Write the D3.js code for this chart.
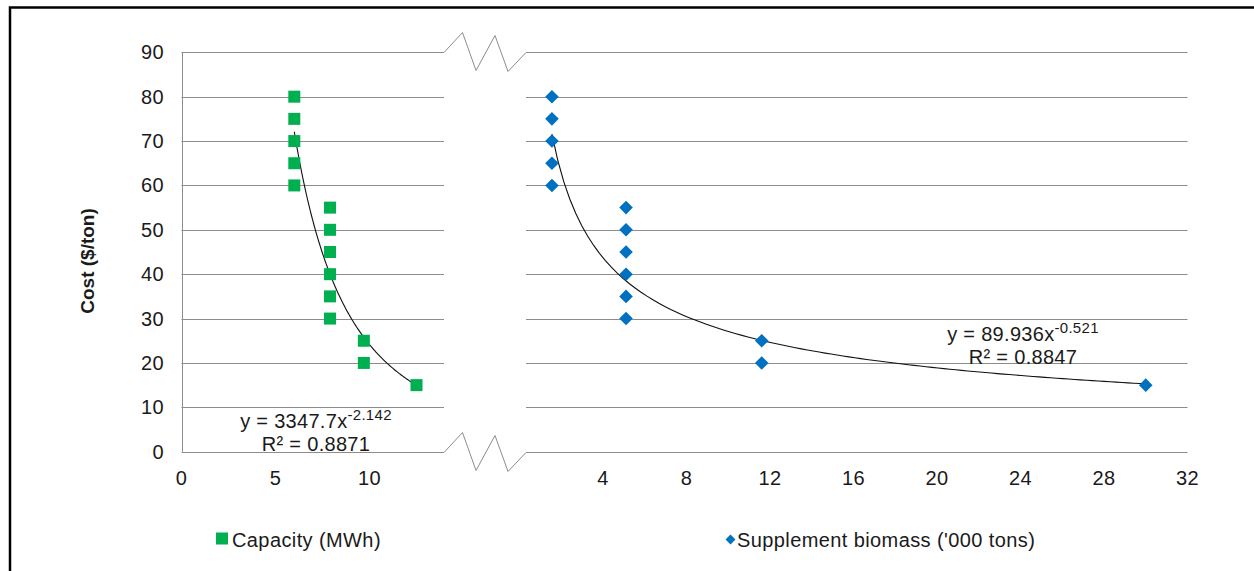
<!DOCTYPE html>
<html>
<head>
<meta charset="utf-8">
<script src="https://cdn.jsdelivr.net/npm/d3@7"></script>
<style>
    body { margin: 0; background: #fff; }
    text { font-family: "Liberation Sans", Arial, sans-serif; fill: #1a1a1a; }
    .grid { stroke: #8c8c8c; stroke-width: 1; fill: none; }
    .tick-label { font-size: 20px; letter-spacing: 0.4px; }
    .eq { font-size: 20px; letter-spacing: 0.3px; }
    .trend { stroke: #111; stroke-width: 1.1; fill: none; }
</style>
</head>
<body>
<div id="chart"></div>
<script>

// Data
var costTicks = [0, 10, 20, 30, 40, 50, 60, 70, 80, 90];
var capacityTicks = [0, 5, 10];
var biomassTicks = [4, 8, 12, 16, 20, 24, 28, 32];

var capacityX = [6.0, 6.0, 6.0, 6.0, 6.0, 7.9, 7.9, 7.9, 7.9, 7.9, 7.9, 9.7, 9.7, 12.5];
var biomassX = [1.55, 1.55, 1.55, 1.55, 1.55, 5.1, 5.1, 5.1, 5.1, 5.1, 5.1, 11.6, 11.6, 30.0];
var costY = [80, 75, 70, 65, 60, 55, 50, 45, 40, 35, 30, 25, 20, 15];

// Power trendlines (from the equations shown on the chart)
var capacityFit = { a: 3347.7, b: -2.142, r2: "0.8871", exp: "-2.142", coef: "3347.7" };
var biomassFit = { a: 89.936, b: -0.521, r2: "0.8847", exp: "-0.521", coef: "89.936" };

var legendLabels = ["Capacity (MWh)", "Supplement biomass ('000 tons)"];

var width = 1254, height = 571;

var svg = d3.select("#chart").append("svg")
    .attr("width", width)
    .attr("height", height);

// Frame (left and top edges only)
svg.append("path")
    .attr("d", "M10,571 L10,7.5 L1254,7.5")
    .attr("fill", "none")
    .attr("stroke", "#000")
    .attr("stroke-width", 2.5);

// Scales
var y = d3.scaleLinear().domain([0, 90]).range([451.7, 52.3]);
var xL = d3.scaleLinear().domain([0, 14]).range([181.5, 444.7]);
var xR = d3.scaleLinear().domain([0, 32]).range([519.6, 1187.5]);

var leftEnd = xL(14) - 0.7,
    rightStart = 526,
    rightEnd = xR(32);

// Gridlines, left panel
svg.append("g").selectAll("line")
    .data(costTicks)
    .enter().append("line")
    .attr("class", "grid")
    .attr("x1", xL(0)).attr("x2", leftEnd)
    .attr("y1", function(d) { return Math.round(y(d)) + 0.5; })
    .attr("y2", function(d) { return Math.round(y(d)) + 0.5; });

// Gridlines, right panel
svg.append("g").selectAll("line")
    .data(costTicks)
    .enter().append("line")
    .attr("class", "grid")
    .attr("x1", rightStart).attr("x2", rightEnd)
    .attr("y1", function(d) { return Math.round(y(d)) + 0.5; })
    .attr("y2", function(d) { return Math.round(y(d)) + 0.5; });

// Vertical axis line
svg.append("line")
    .attr("class", "grid")
    .attr("x1", Math.round(xL(0)) + 0.5).attr("x2", Math.round(xL(0)) + 0.5)
    .attr("y1", y(90)).attr("y2", y(0));

// Axis break zig-zags, joining top and bottom gridlines
var zig = [[0, 0], [18.5, -20], [32, 18], [51, -17], [64, 19], [82, 0]];
[90, 0].forEach(function(v) {
    var y0 = Math.round(y(v)) + 0.5;
    svg.append("path")
        .attr("class", "grid")
        .attr("d", d3.line()(zig.map(function(p) { return [leftEnd + p[0], y0 + p[1]]; })));
});

// Y tick labels
svg.append("g").selectAll("text")
    .data(costTicks)
    .enter().append("text")
    .attr("class", "tick-label")
    .attr("x", 164)
    .attr("y", function(d) { return y(d) + 7; })
    .attr("text-anchor", "end")
    .text(function(d) { return d; });

// X tick labels
svg.append("g").selectAll("text")
    .data(capacityTicks)
    .enter().append("text")
    .attr("class", "tick-label")
    .attr("x", function(d) { return xL(d); })
    .attr("y", 485)
    .attr("text-anchor", "middle")
    .text(function(d) { return d; });

svg.append("g").selectAll("text")
    .data(biomassTicks)
    .enter().append("text")
    .attr("class", "tick-label")
    .attr("x", function(d) { return xR(d); })
    .attr("y", 485)
    .attr("text-anchor", "middle")
    .text(function(d) { return d; });

// Y axis title
svg.append("text")
    .attr("transform", "translate(94,261) rotate(-90)")
    .attr("text-anchor", "middle")
    .style("font-size", "19px")
    .style("font-weight", "bold")
    .text("Cost ($/ton)");

// Trendlines
function trendPoints(xs, fit) {
    var lo = d3.min(xs), hi = d3.max(xs), pts = [];
    for (var i = 0; i <= 100; i++) {
        var xv = lo + (hi - lo) * i / 100;
        pts.push([xv, fit.a * Math.pow(xv, fit.b)]);
    }
    return pts;
}

svg.append("path")
    .attr("class", "trend")
    .attr("d", d3.line()
        .x(function(d) { return xL(d[0]); })
        .y(function(d) { return y(d[1]); })(trendPoints(capacityX, capacityFit)));

svg.append("path")
    .attr("class", "trend")
    .attr("d", d3.line()
        .x(function(d) { return xR(d[0]); })
        .y(function(d) { return y(d[1]); })(trendPoints(biomassX, biomassFit)));

// Markers
var capData = capacityX.map(function(d, i) { return [d, costY[i]]; });
var bioData = biomassX.map(function(d, i) { return [d, costY[i]]; });

svg.append("g").selectAll("rect")
    .data(capData)
    .enter().append("rect")
    .attr("x", function(d) { return xL(d[0]) - 6; })
    .attr("y", function(d) { return y(d[1]) - 6; })
    .attr("width", 12).attr("height", 12)
    .attr("fill", "#00b050");

svg.append("g").selectAll("rect")
    .data(bioData)
    .enter().append("rect")
    .attr("x", -4.8).attr("y", -4.8)
    .attr("width", 9.6).attr("height", 9.6)
    .attr("transform", function(d) { return "translate(" + xR(d[0]) + "," + y(d[1]) + ") rotate(45)"; })
    .attr("fill", "#0070c0");

// Equation labels
function equation(cx, base, fit) {
    var t = svg.append("text")
        .attr("class", "eq")
        .attr("x", cx).attr("y", base)
        .attr("text-anchor", "middle");
    t.append("tspan").text("y = " + fit.coef + "x");
    t.append("tspan").attr("dy", -8).style("font-size", "15px").text(fit.exp);
    svg.append("text")
        .attr("class", "eq")
        .attr("x", cx).attr("y", base + 23)
        .attr("text-anchor", "middle")
        .text("R\u00b2 = " + fit.r2);
}
equation(316, 428, capacityFit);
equation(1023, 341, biomassFit);

// Legend
svg.append("rect")
    .attr("x", 216).attr("y", 532.5)
    .attr("width", 12).attr("height", 12)
    .attr("fill", "#00b050");
svg.append("text")
    .attr("class", "tick-label")
    .attr("x", 232).attr("y", 547)
    .text(legendLabels[0]);

svg.append("rect")
    .attr("x", -3.5).attr("y", -3.5)
    .attr("width", 7).attr("height", 7)
    .attr("transform", "translate(730.5,539.5) rotate(45)")
    .attr("fill", "#0070c0");
svg.append("text")
    .attr("class", "tick-label")
    .attr("x", 737).attr("y", 547)
    .text(legendLabels[1]);

</script>
</body>
</html>
